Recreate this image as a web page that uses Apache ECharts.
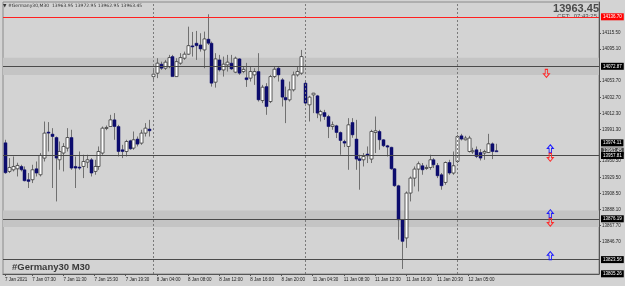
<!DOCTYPE html>
<html>
<head>
<meta charset="utf-8">
<script src="https://cdn.jsdelivr.net/npm/echarts@6/dist/echarts.min.js"></script>
<style>
html,body{margin:0;padding:0;background:#d3d3d3;}
#chart{width:625px;height:286px;}
</style>
</head>
<body>
<div id="chart"></div>
<script>
// #Germany30 M30 candles, 7 Jan 04:00 .. 12 Jan 07:30
var opens = [
  13974.2,13937.3,13939.4,13940.7,13943.7,13939.4,13926.6,13926.6,13940.7,13933.0,
  13954.5,13988.0,13985.4,13981.0,13952.3,13961.0,13967.4,13981.0,13943.7,13942.9,
  13943.7,13949.3,13952.3,13937.3,13943.7,13961.0,13993.1,13995.2,14003.8,13995.2,
  13965.2,13963.0,13976.8,13967.4,13979.0,13973.8,13986.7,13991.9,14059.6,14064.0,
  14075.6,14070.4,14072.5,14085.4,14059.6,14076.9,14083.3,14088.5,14099.2,14102.6,
  14100.4,14094.0,14107.8,14102.6,14052.4,14081.1,14068.2,14074.7,14076.9,14065.3,
  14082.4,14066.1,14058.0,14057.6,14061.8,14066.1,14028.7,14046.7,14027.4,14059.6,
  14070.4,14055.4,14032.6,14029.6,14042.5,14061.8,14064.0,14051.1,14023.2,14036.0,
  14034.8,14010.3,14013.2,14008.1,13995.2,13996.1,13987.5,13975.9,13969.5,14000.4,
  13979.0,13953.6,13952.3,13959.7,13953.2,13987.5,13988.8,13978.1,13970.4,13968.4,
  13940.7,13918.8,13875.0,13851.5,13909.4,13928.7,13940.3,13944.6,13941.1,13942.4,
  13952.3,13945.0,13933.0,13923.1,13948.8,13935.2,13950.1,13983.2,13978.1,13963.0,
  13962.6,13965.2,13961.7,13961.0,13961.7,13972.9,13963.95
];
var closes = [
  13935.6,13942.4,13943.7,13945.0,13939.4,13925.3,13924.4,13939.4,13935.2,13957.9,
  13986.7,13986.7,13982.3,13954.5,13963.0,13969.5,13981.0,13941.6,13941.6,13941.6,
  13950.1,13952.3,13935.2,13943.7,13963.0,13993.1,13994.0,14003.8,13995.2,13963.0,
  13963.0,13975.9,13966.5,13978.1,13972.5,13986.7,13993.1,13989.7,14062.7,14076.9,
  14070.4,14078.2,14084.1,14059.6,14078.9,14084.1,14088.5,14099.5,14097.9,14099.5,
  14095.3,14108.2,14102.6,14051.1,14082.4,14068.2,14075.6,14078.2,14069.5,14083.3,
  14064.0,14068.9,14055.7,14066.1,14066.1,14029.6,14045.9,14021.0,14059.6,14069.1,
  14061.8,14033.1,14029.6,14042.5,14061.8,14066.1,14085.4,14025.4,14033.1,14038.2,
  14012.5,14014.5,14008.1,13995.2,13997.4,13987.5,13977.2,13973.8,13997.4,13984.5,
  13953.2,13951.4,13956.6,13957.5,13988.8,13989.7,13978.1,13970.4,13968.7,13940.7,
  13918.8,13875.0,13847.1,13909.4,13928.7,13940.3,13947.2,13939.4,13942.4,13952.3,
  13945.9,13931.7,13918.8,13948.8,13935.2,13944.6,13982.3,13979.0,13980.3,13980.3,
  13963.9,13956.6,13954.5,13963.0,13972.9,13963.0,13963.45
];
var lows = [
  13934.3,13935.2,13937.3,13930.8,13937.3,13924.4,13915.9,13922.3,13930.8,13930.8,
  13950.1,13963.0,13915.9,13898.6,13939.4,13937.3,13963.0,13939.4,13915.9,13939.4,
  13928.7,13941.6,13930.8,13933.0,13939.4,13958.8,13990.5,13995.2,13978.1,13956.6,
  13954.5,13956.6,13965.2,13965.2,13969.5,13971.6,13982.3,13982.3,14055.4,14057.6,
  14068.2,14068.2,14070.4,14059.6,14059.6,14074.7,14081.1,14087.6,14085.4,14081.1,
  14091.8,14070.4,14100.4,14046.7,14045.4,14066.1,14059.6,14066.1,14068.2,14064.0,
  14061.8,14064.0,14046.3,14053.2,14048.9,14027.4,14025.4,14010.3,14025.4,14057.6,
  14053.2,14021.0,13999.6,14027.4,14040.3,14059.6,14061.8,14023.2,14001.7,14012.5,
  14006.0,14001.7,14003.8,13980.3,13991.0,13980.3,13958.8,13968.7,13939.4,13980.7,
  13939.4,13913.7,13943.7,13948.1,13948.1,13961.0,13965.2,13968.7,13956.6,13939.4,
  13917.5,13849.3,13811.5,13838.6,13898.6,13917.9,13911.5,13933.0,13939.4,13939.4,
  13941.6,13928.7,13913.7,13920.1,13933.0,13933.0,13948.1,13977.2,13977.2,13961.7,
  13960.0,13954.5,13951.4,13952.3,13961.0,13953.2,13962.95
];
var highs = [
  13978.1,13954.5,13956.6,13948.5,13945.9,13943.7,13935.2,13945.9,13950.1,13961.0,
  14001.6,14000.9,13993.1,13982.3,13975.9,13973.8,13993.1,13991.0,13956.6,13963.0,
  13958.8,13958.8,13954.5,13952.3,13969.5,13995.2,13996.5,14010.3,14012.5,13997.4,
  13971.6,13978.1,13978.1,13988.8,13982.3,13991.0,13999.6,14003.8,14070.4,14083.3,
  14078.9,14081.1,14087.6,14087.6,14083.3,14089.8,14091.8,14124.0,14117.2,14118.5,
  14115.5,14117.6,14140.0,14104.7,14089.8,14087.6,14085.4,14087.6,14087.6,14085.4,
  14083.3,14072.5,14077.3,14072.5,14070.4,14089.8,14048.9,14051.1,14061.8,14072.5,
  14072.5,14057.6,14046.7,14053.2,14066.1,14072.5,14094.0,14053.2,14034.8,14038.6,
  14036.0,14016.7,14016.7,14010.3,14001.6,13997.4,13988.8,13978.1,14006.0,14006.0,
  14003.8,13958.8,13961.0,13969.5,13991.0,14008.1,13991.0,13979.0,13971.6,13969.1,
  13941.6,13920.1,13875.0,13911.5,13930.8,13943.7,13950.1,13948.1,13945.9,13958.8,
  13954.5,13948.1,13935.2,13950.1,13952.3,13963.0,13984.5,13985.8,13983.2,13983.2,
  13967.8,13969.5,13966.1,13965.2,13985.8,13974.6,13972.95
];

// bar slots on the x axis (chart is shifted, empty space on the right)
var slots = 153;
var timeLabels = ['7 Jan 2021','7 Jan 07:30','7 Jan 11:30','7 Jan 15:30','7 Jan 19:30',
  '8 Jan 04:00','8 Jan 08:00','8 Jan 12:00','8 Jan 16:00','8 Jan 20:00',
  '11 Jan 04:30','11 Jan 08:30','11 Jan 12:30','11 Jan 16:30','11 Jan 20:30','12 Jan 05:00'];
var timeLabelBars = [0,7,15,23,31,39,47,55,63,71,79,87,95,103,111,119];
var daySeparators = [38, 77, 116];

var priceTicks = [14115.50,14095.10,14053.70,14032.70,14012.30,13991.30,
  13950.50,13929.50,13908.50,13888.10,13867.70,13846.70];

// horizontal lines drawn on the chart
var levelPrices = [14136.70, 14072.87, 13974.11, 13963.45, 13957.81, 13876.19, 13823.56, 13805.26];
var levelKinds  = ['red','line','box','bid','line','line','line','box'];
var zones = [[14061.8, 14084.0], [13865.6, 13887.0]];

// arrow objects
var arrowBars   = [139, 140, 140, 140, 140, 140];
var arrowPrices = [14063.7, 13966.5, 13955.5, 13882.8, 13871.8, 13828.7];
var arrowDirs   = ['down','up','down','up','down','up'];

var cats = [];
for (var i = 0; i < slots; i++) cats.push('');
timeLabelBars.forEach(function (b, k) { cats[b] = timeLabels[k]; });

var candles = opens.map(function (o, i) { return [i, o, closes[i], lows[i], highs[i]]; });

var upArrow = 'path://M5,0 L10,5 L7,5 L7,11 L3,11 L3,5 L0,5 Z';
var tiny = 'Liberation Sans, Arial, sans-serif';

function renderCandle(params, api) {
  var i = api.value(0);
  var o = api.coord([i, api.value(1)]);
  var c = api.coord([i, api.value(2)]);
  var l = api.coord([i, api.value(3)]);
  var h = api.coord([i, api.value(4)]);
  var x = Math.round(o[0]) + 0.5;
  var up = api.value(2) >= api.value(1);
  var top = Math.min(o[1], c[1]), bot = Math.max(o[1], c[1]);
  return {
    type: 'group',
    children: [
      { type: 'line', shape: { x1: x, y1: h[1], x2: x, y2: l[1] },
        style: { stroke: '#707070', lineWidth: 1 } },
      { type: 'rect', shape: { x: x - 1.5, y: top, width: 3, height: Math.max(bot - top, 1) },
        style: up ? { fill: '#ffffff', stroke: '#3a3a3a', lineWidth: 0.8 }
                  : { fill: '#0d0d6e', stroke: '#0d0d6e', lineWidth: 0.5 } }
    ]
  };
}

var levelLines = levelPrices.map(function (v, k) {
  var kind = levelKinds[k];
  var bg = kind === 'red' ? '#ff0000' : (kind === 'bid' ? '#4a4a4a' : '#000000');
  var stroke = kind === 'red' ? '#ff2020' : (kind === 'line' ? '#4a4a4a' : 'rgba(0,0,0,0)');
  return {
    yAxis: v,
    lineStyle: { color: stroke, width: 1, type: 'solid' },
    label: { show: true, position: 'end', distance: 2, formatter: v.toFixed(2),
             color: '#ffffff', backgroundColor: bg, fontSize: 4.5, fontFamily: tiny,
             padding: [1, 2, 1, 2] }
  };
});

var chart = echarts.init(document.getElementById('chart'), null, { renderer: 'canvas' });
chart.setOption({
  backgroundColor: '#d3d3d3',
  animation: false,
  grid: { left: 3, right: 26, top: 2, bottom: 12, show: true, borderColor: '#8a8a8a', borderWidth: 1 },
  xAxis: {
    type: 'category', data: cats, boundaryGap: true,
    axisLine: { show: true, lineStyle: { color: '#555' } },
    axisTick: { show: true, alignWithLabel: true, length: 2, lineStyle: { color: '#555' },
                interval: function (idx, val) { return val !== ''; } },
    axisLabel: { interval: function (idx, val) { return val !== ''; }, align: 'left',
                 fontSize: 4.5, fontFamily: tiny, color: '#222', margin: 3 },
    splitLine: { show: false }
  },
  yAxis: {
    type: 'value', position: 'right', min: 13805.0, max: 14155.8,
    axisLine: { show: true, lineStyle: { color: '#555' } },
    axisTick: { show: true, length: 2, customValues: priceTicks, lineStyle: { color: '#555' } },
    axisLabel: { customValues: priceTicks, margin: 3, fontSize: 4.5, fontFamily: tiny, color: '#222',
                 formatter: function (v) { return v.toFixed(2); } },
    splitLine: { show: false }
  },
  series: [
    {
      type: 'line', data: [], z: 1, silent: true,
      markArea: { silent: true, itemStyle: { color: '#c4c4c4' },
        data: zones.map(function (z) { return [{ yAxis: z[0] }, { yAxis: z[1] }]; }) },
      markLine: { silent: true, symbol: ['none', 'none'], label: { show: false },
        lineStyle: { color: '#7a7a7a', type: [2, 2], width: 1 },
        data: daySeparators.map(function (b) { return { xAxis: b }; }) }
    },
    {
      type: 'line', data: [], z: 2, silent: true,
      markLine: { silent: true, symbol: ['none', 'none'], data: levelLines }
    },
    {
      type: 'custom', z: 3, clip: true,
      renderItem: renderCandle,
      encode: { x: 0, y: [1, 2, 3, 4] },
      data: candles
    },
    {
      type: 'line', data: [], z: 4, silent: true,
      markPoint: {
        silent: true,
        data: arrowBars.map(function (b, k) {
          var up = arrowDirs[k] === 'up';
          return { coord: [b, arrowPrices[k]], symbol: upArrow, symbolSize: [6, 8],
                   symbolRotate: up ? 0 : 180,
                   itemStyle: { color: 'rgba(0,0,0,0)', borderColor: up ? '#1a1aff' : '#ff2a2a', borderWidth: 1 },
                   label: { show: false } };
        })
      }
    }
  ],
  graphic: [
    { type: 'text', left: 3, top: 3, silent: true,
      style: { text: '\u25BC #Germany30,M30  13963.95 13972.95 13962.95 13963.45',
               fontSize: 4.5, fontFamily: 'DejaVu Sans, sans-serif', fill: '#333' } },
    { type: 'text', right: 26, top: 3, silent: true,
      style: { text: '13963.45', fontSize: 11, fontWeight: 'bold', fontFamily: tiny, fill: '#4a4a4a' } },
    { type: 'text', right: 28, top: 13, silent: true,
      style: { text: 'CET:  07:43:25', fontSize: 6, fontFamily: tiny, fill: '#4a4a4a' } },
    { type: 'text', left: 12, top: 262, silent: true,
      style: { text: '#Germany30 M30', fontSize: 9.5, fontWeight: 'bold', fontFamily: tiny, fill: '#3a3a3a' } }
  ]
});
</script>
</body>
</html>
